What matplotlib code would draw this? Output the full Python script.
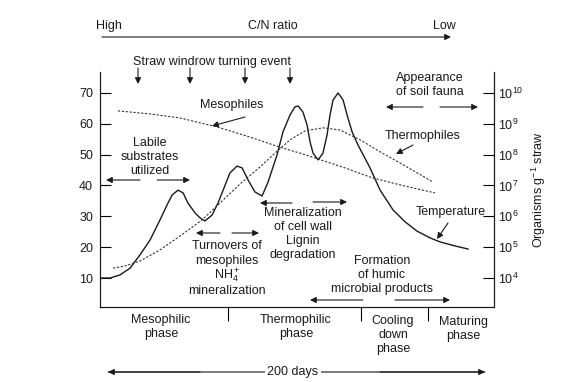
import matplotlib.pyplot as plt
import numpy as np

plt.rcParams['font.family'] = ['Liberation Sans', 'DejaVu Sans']
plt.rcParams['mathtext.fontset'] = 'custom'
plt.rcParams['mathtext.rm'] = 'Liberation Sans'
plt.rcParams['mathtext.it'] = 'Liberation Sans'

# temperature (deg C) against composting time (days)
temp_days = [0, 5.4, 10.7, 16.1, 21.4, 26.8, 32.1, 35.9, 38.6, 41.8, 44.5, 47.1, 50.9,
             53.6, 56.2, 60.0, 63.2, 66.4, 69.6, 73.4, 76.1, 79.3, 83.0, 86.8, 90.0,
             94.8, 98.0, 101.8, 104.4, 106.1, 108.7, 110.9, 112.5, 114.1, 116.8, 119.4,
             121.6, 123.2, 124.8, 127.5, 130.2, 132.3, 135.0, 138.2, 144.6, 150, 156.9,
             163.4, 169.8, 176.8, 182.1, 190.1, 197.1]
temp_vals = [10, 10, 11.0, 13.2, 17.5, 22.3, 28.8, 33.7, 36.9, 38.5, 37.6, 34.3, 31.1,
             29.5, 28.5, 30.4, 34.3, 39.2, 44.1, 46.3, 45.7, 41.8, 37.9, 36.6, 41.1,
             49.9, 57.4, 62.9, 65.5, 65.8, 63.8, 59.6, 54.1, 50.5, 48.3, 50.5,
             56.4, 62.9, 67.7, 70.0, 67.7, 62.9, 57.4, 53.1, 45.7, 38.5, 32.1,
             28.2, 25.2, 23.0, 21.7, 20.4, 19.4]

# organisms per g straw, as log10
meso_days = [9.6, 26.8, 42.8, 62.7, 80.3, 97.5, 107.1, 116.8, 131.2, 146.2, 163.4, 179.4]
meso_log = [9.42, 9.32, 9.19, 8.90, 8.57, 8.22, 8.05, 7.86, 7.57, 7.24, 6.98, 6.76]
thermo_days = [7.0, 13.4, 21.4, 32.1, 42.8, 54.6, 63.2, 75.0, 85.7, 93.7, 101.8, 109.8,
               119.4, 128.5, 139.3, 150, 160.7, 178.4]
thermo_log = [4.32, 4.39, 4.55, 4.91, 5.36, 5.88, 6.37, 7.05, 7.60, 8.05, 8.48, 8.77,
              8.87, 8.80, 8.48, 8.09, 7.73, 7.11]

temp_ticks = [10, 20, 30, 40, 50, 60, 70]
org_exps = [4, 5, 6, 7, 8, 9, 10]
phase_bounds = [68.6, 139.8, 175.7]

W, H = 564, 382
fig = plt.figure(figsize=(W / 100, H / 100), dpi=100)
ax = fig.add_axes([100 / W, 1 - 307 / H, 394 / W, 235 / H])
ax2 = ax.twinx()

TC = '#1a1a1a'
FS = 9.0

ax.plot(temp_days, temp_vals, color=TC, lw=1.0, solid_joinstyle='round')
ax2.plot(meso_days, 10 ** np.array(meso_log), color='#333333', lw=0.8, ls=(0, (2, 1.5)))
ax2.plot(thermo_days, 10 ** np.array(thermo_log), color='#333333', lw=0.8, ls=(0, (2, 1.5)))

ax.set_xlim(0, 211)
ax.set_ylim(0.6, 76.8)
ax2.set_yscale('log')
ax2.set_ylim(10 ** 3.06, 10 ** 10.68)

ax.set_yticks(temp_ticks)
ax.set_yticklabels([str(t) for t in temp_ticks], fontsize=FS, color=TC)
ax.tick_params(axis='y', direction='in', length=8, width=0.8, pad=5)
ax.set_xticks(phase_bounds)
ax.set_xticklabels([])
ax.tick_params(axis='x', direction='out', length=10, width=0.8)

ax2.set_yticks([10.0 ** e for e in org_exps])
ax2.set_yticklabels(['10$^{%d}$' % e for e in org_exps], fontsize=FS, color=TC)
ax2.yaxis.set_minor_locator(plt.NullLocator())
ax2.tick_params(axis='y', direction='in', length=8, width=0.8, pad=3)

for a in (ax, ax2):
    a.spines['top'].set_visible(False)
    for s in a.spines.values():
        s.set_linewidth(0.8)
        s.set_color(TC)


def ftxt(x, y, s, **kw):
    kw.setdefault('ha', 'center')
    fig.text(x / W, 1 - y / H, s, va='center', fontsize=FS, color=TC, linespacing=1.2, **kw)


def arr(x0, y0, x1, y1, style='-|>'):
    ax.annotate('', xy=(x1 / W, 1 - y1 / H), xytext=(x0 / W, 1 - y0 / H),
                xycoords='figure fraction', textcoords='figure fraction',
                annotation_clip=False,
                arrowprops=dict(arrowstyle=style, lw=0.8, color=TC, mutation_scale=9,
                                shrinkA=0, shrinkB=0))


# C/N ratio header
ftxt(96, 26, 'High', ha='left')
ftxt(273, 26, 'C/N ratio')
ftxt(456, 26, 'Low', ha='right')
arr(102, 37, 451, 37)

# turning events
ftxt(212, 62, 'Straw windrow turning event')
for xe in [138, 190, 245, 290]:
    arr(xe, 68, xe, 84)

ftxt(430, 85, 'Appearance\nof soil fauna')
arr(423, 107, 386, 107)
arr(440, 107, 478, 107)

ftxt(232, 105, 'Mesophiles')
arr(245, 117, 212, 126)
ftxt(423, 136, 'Thermophiles')
arr(413, 145, 396, 154)
ftxt(451, 212, 'Temperature')
arr(448, 223, 437, 239)

ftxt(150, 157, 'Labile\nsubstrates\nutilized')
arr(140, 180, 106, 180)
arr(157, 180, 190, 180)

arr(220, 233, 196, 233)
arr(232, 233, 259, 233)
ftxt(227, 246, 'Turnovers of')
ftxt(227, 261, 'mesophiles')
ftxt(227, 276, 'NH$_4^+$')
ftxt(227, 291, 'mineralization')

arr(292, 203, 260, 203)
arr(313, 202, 347, 202)
ftxt(303, 234, 'Mineralization\nof cell wall\nLignin\ndegradation')

ftxt(382, 275, 'Formation\nof humic\nmicrobial products')
arr(363, 300, 310, 300)
arr(395, 300, 450, 300)

# phases
ftxt(161, 327, 'Mesophilic\nphase')
ftxt(296, 327, 'Thermophilic\nphase')
ftxt(393, 335, 'Cooling\ndown\nphase')
ftxt(463, 329, 'Maturing\nphase')

arr(200, 372, 108, 372)
arr(380, 372, 485, 372)
arr(108, 372, 485, 372, style='-')
fig.text(293 / W, 1 - 372 / H, '200 days', ha='center', va='center', fontsize=FS,
         color=TC, bbox=dict(facecolor='white', edgecolor='none', pad=1.5))

fig.text(539 / W, 1 - 190 / H, 'Organisms g$^{-1}$ straw', rotation=90, ha='center',
         va='center', fontsize=FS, color=TC)

fig.savefig('out.png', dpi=100)
